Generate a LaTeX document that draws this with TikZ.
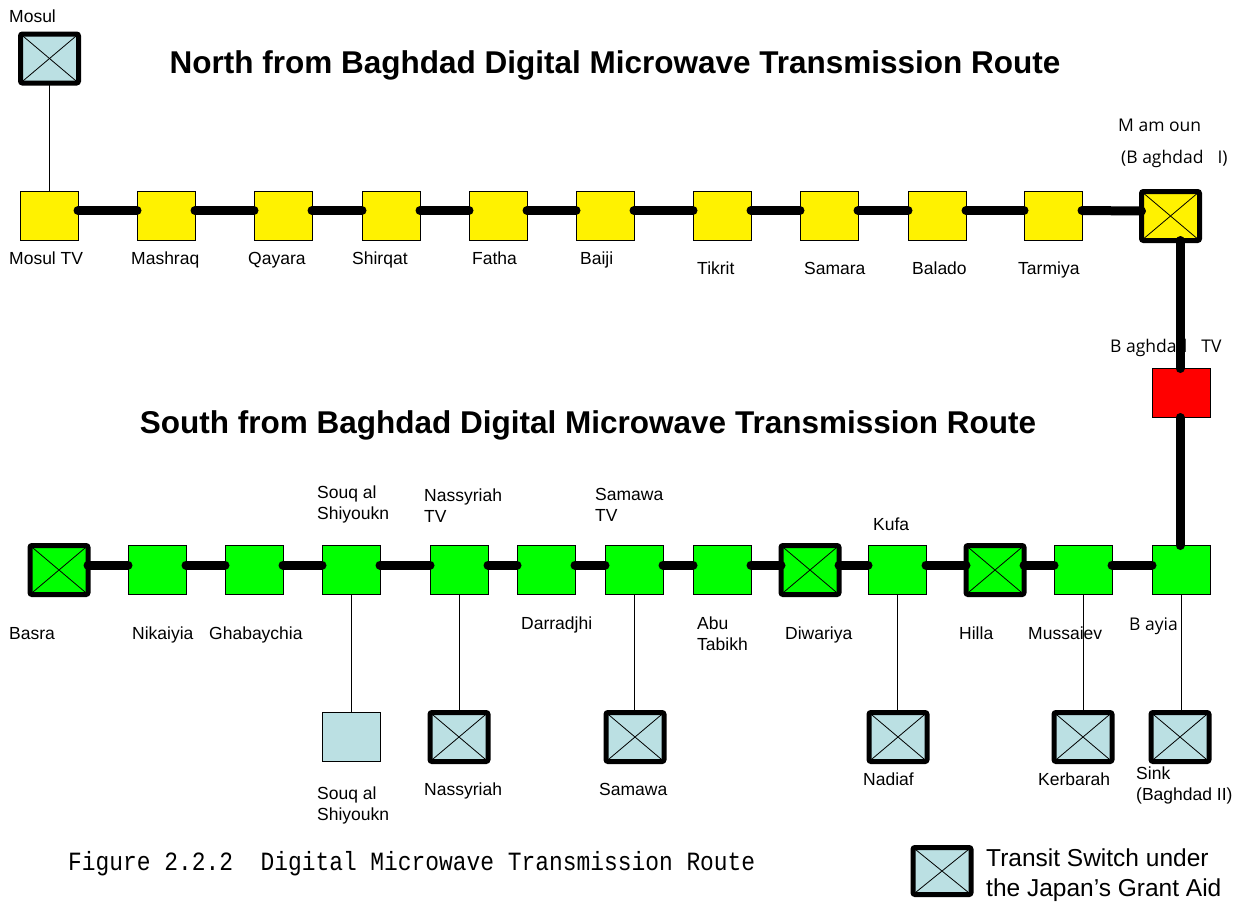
\documentclass[tikz,border=0pt]{standalone}
\usepackage{fontspec}
\setmainfont{Liberation Sans}
\newfontfamily\osfont{Open Sans}
\newfontfamily\capfont{Liberation Mono}
\definecolor{lblue}{RGB}{187,224,227}
\begin{document}
\begin{tikzpicture}[x=1pt,y=-1pt,
  stn/.style={draw=black, line width=0.9pt, minimum width=58pt, minimum height=49pt, inner sep=0pt, outer sep=0pt},
  yel/.style={stn, fill=yellow},
  grn/.style={stn, fill=green},
  sw/.style={draw=black, line width=5pt, rounded corners=2pt, minimum width=58pt, minimum height=49pt, inner sep=0pt, outer sep=0pt,
    path picture={\draw[line width=0.8pt] (path picture bounding box.south west) -- (path picture bounding box.north east)
      (path picture bounding box.north west) -- (path picture bounding box.south east);}},
  trunk/.style={line width=9pt, line cap=round},
  feeder/.style={line width=1pt},
  lbl/.style={font=\fontsize{17.5}{21}\selectfont, inner sep=0pt, anchor=base west, align=left},
  olbl/.style={font=\osfont\fontsize{17.5}{21}\selectfont, inner sep=0pt, anchor=base west},
  title/.style={font=\bfseries\fontsize{31.5}{36}\selectfont, inner sep=0pt, anchor=base}
]
\useasboundingbox (0,0) rectangle (1244,903);

% titles
\node[title] (t1) at (615,73) {North from Baghdad Digital Microwave Transmission Route};
\node[title] (t2) at (588,433) {South from Baghdad Digital Microwave Transmission Route};

% north route
\node[sw, fill=lblue] (mos) at (49.5,58.5) {};
\node[yel] (mtv) at (49,215.5) {};
\node[yel] (mas) at (166,215.5) {};
\node[yel] (qay) at (283,215.5) {};
\node[yel] (shi) at (391,215.5) {};
\node[yel] (fat) at (498,215.5) {};
\node[yel] (bai) at (605,215.5) {};
\node[yel] (tik) at (722,215.5) {};
\node[yel] (sam) at (829,215.5) {};
\node[yel] (bal) at (937,215.5) {};
\node[yel] (tar) at (1053,215.5) {};
\node[sw, fill=yellow] (mam) at (1170.5,216) {};
\node[stn, fill=red] (btv) at (1181,393) {};

% south route
\node[sw, fill=green] (bas) at (59,570) {};
\node[grn] (nik) at (157,570) {};
\node[grn] (gha) at (254,570) {};
\node[grn] (sou) at (351,570) {};
\node[grn] (ntv) at (459,570) {};
\node[grn] (dar) at (546,570) {};
\node[grn] (stv) at (634,570) {};
\node[grn] (abu) at (722,570) {};
\node[sw, fill=green] (diw) at (810,570) {};
\node[grn] (kuf) at (897,570) {};
\node[sw, fill=green] (hil) at (995,570) {};
\node[grn] (mus) at (1083,570) {};
\node[grn] (bay) at (1181,570) {};

% branch stations
\node[stn, fill=lblue] (sou2) at (351,737) {};
\node[sw, fill=lblue] (nas) at (459,737) {};
\node[sw, fill=lblue] (sama) at (635,737) {};
\node[sw, fill=lblue] (nad) at (898,737) {};
\node[sw, fill=lblue] (ker) at (1083,737) {};
\node[sw, fill=lblue] (sink) at (1180,737) {};

% feeders
\draw[feeder] (mos.south) -- (mos.south |- mtv.north);
\draw[feeder] (sou.south) -- (sou2.north);
\draw[feeder] (ntv.south) -- (nas.north);
\draw[feeder] (stv.south) -- (stv.south |- sama.north);
\draw[feeder] (kuf.south) -- (kuf.south |- nad.north);
\draw[feeder] (mus.south) -- (ker.north);
\draw[feeder] (bay.south) -- (bay.south |- sink.north);

% trunk north
\foreach \a/\b in {mtv/mas,mas/qay,qay/shi,shi/fat,fat/bai,bai/tik,tik/sam,sam/bal,bal/tar,tar/mam}
  \draw[trunk] ([yshift=5pt]\a.east) -- ([yshift=5pt]\b.west);
% trunk south
\foreach \a/\b in {bas/nik,nik/gha,gha/sou,sou/ntv,ntv/dar,dar/stv,stv/abu,abu/diw,diw/kuf,kuf/hil,hil/mus,mus/bay}
  \draw[trunk] ([yshift=5pt]\a.east) -- ([yshift=5pt]\b.west);

% labels north
\node[lbl] (l1) at (9,22) {Mosul};
\node[lbl] (l2) at (9,264) {Mosul TV};
\node[lbl] (l3) at (131,264) {Mashraq};
\node[lbl] (l4) at (248,264) {Qayara};
\node[lbl] (l5) at (352,264) {Shirqat};
\node[lbl] (l6) at (472,264) {Fatha};
\node[lbl] (l7) at (580,264) {Baiji};
\node[lbl] (l8) at (697,274) {Tikrit};
\node[lbl] (l9) at (804,274) {Samara};
\node[lbl] (l10) at (912,274) {Balado};
\node[lbl] (l11) at (1018,274) {Tarmiya};
\node[olbl] (l12) at (1118,131) {M am oun};
\node[olbl] (l13) at (1121,163) {(B aghdad\hspace{14pt}I)};

% trunk vertical (drawn over label)
\node[olbl] (l14) at (1110,352) {B aghdad\hspace{14pt}TV};
\draw[trunk] ([xshift=-1pt]btv.north) -- ([xshift=-1pt]btv.north |- mam.south);
\draw[trunk] ([xshift=-1pt]btv.south) -- ([xshift=-1pt]bay.north);

% labels south
\node[lbl] (s1) at (9,639) {Basra};
\node[lbl] (s2) at (132,639) {Nikaiyia};
\node[lbl] (s3) at (209,639) {Ghabaychia};
\node[lbl, anchor=west] (s4) at (317,504.5) {Souq al\\Shiyoukn};
\node[lbl, anchor=west] (s5) at (424,505.5) {Nassyriah\\TV};
\node[lbl] (s6) at (521,629) {Darradjhi};
\node[lbl, anchor=west] (s7) at (595,504.5) {Samawa\\TV};
\node[lbl, anchor=west] (s8) at (697,633.5) {Abu\\Tabikh};
\node[lbl] (s9) at (785,639) {Diwariya};
\node[lbl] (s10) at (873,530) {Kufa};
\node[lbl] (s11) at (959,639) {Hilla};
\node[lbl] (s12) at (1028,639) {Mussaiev};
\node[olbl] (s13) at (1129,630) {B ayia};
\node[lbl, anchor=west] (s14) at (317,805.5) {Souq al\\Shiyoukn};
\node[lbl] (s15) at (424,795) {Nassyriah};
\node[lbl] (s16) at (599,795) {Samawa};
\node[lbl] (s17) at (863,785) {Nadiaf};
\node[lbl] (s18) at (1038,785) {Kerbarah};
\node[lbl, anchor=west] (s19) at (1136,785.5) {Sink\\(Baghdad II)};

% caption
\node[font=\capfont\fontsize{22.9}{26}\selectfont, inner sep=0pt, anchor=base west, yscale=1.15] (cap) at (68,870) {Figure 2.2.2\ \ Digital Microwave Transmission Route};

% legend
\node[sw, fill=lblue, minimum height=47pt] (leg) at (942,871) {};
\node[font=\fontsize{24.5}{30}\selectfont, inner sep=0pt, anchor=west, align=left] (legt) at (986,875) {Transit Switch under\\the Japan’s Grant Aid};
\end{tikzpicture}
\end{document}
